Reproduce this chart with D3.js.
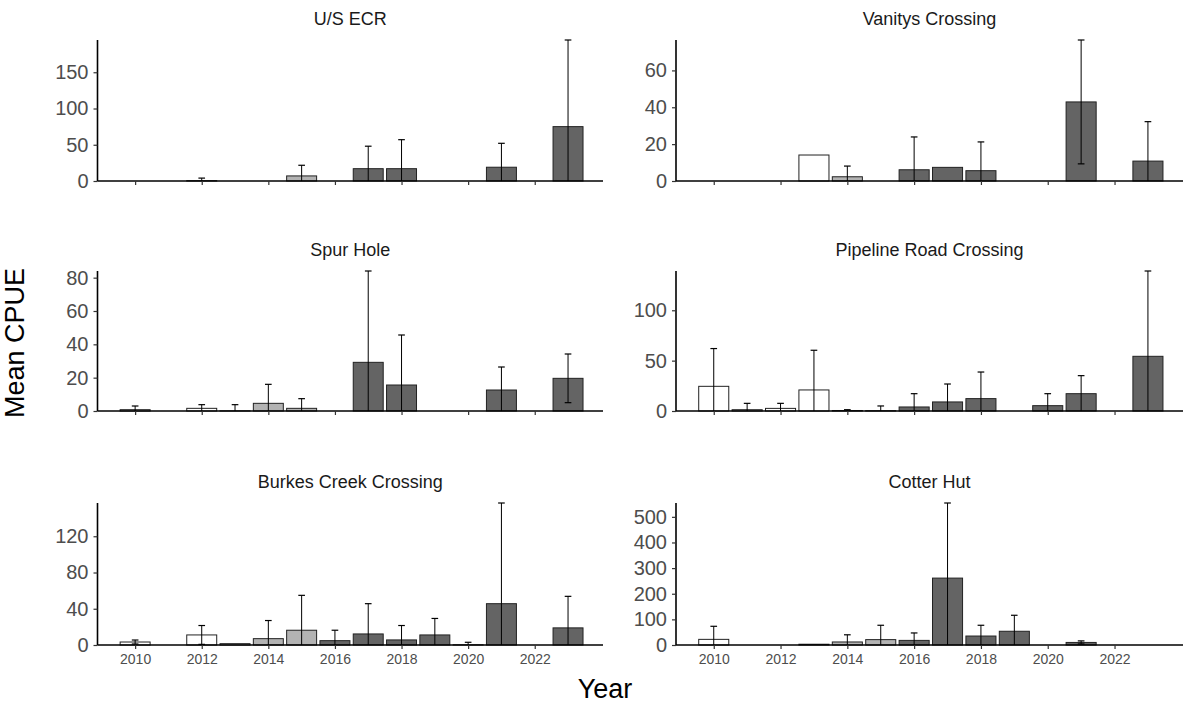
<!DOCTYPE html>
<html>
<head>
<meta charset="utf-8">
<script src="https://cdn.jsdelivr.net/npm/d3@7"></script>
<style>
  html, body { margin: 0; padding: 0; background: #fff; }
  svg { display: block; font-family: "Liberation Sans", Arial, sans-serif; }
</style>
</head>
<body>
<svg id="chart" width="1186" height="711"></svg>
<script>
// ---------------- data ----------------
const sites = ["U/S ECR", "Vanitys Crossing", "Spur Hole", "Pipeline Road Crossing", "Burkes Creek Crossing", "Cotter Hut"];

const usecrYears = [2012, 2015, 2017, 2018, 2021, 2023];
const usecrMean  = [0.5, 7, 17, 17, 19, 75];
const usecrSD    = [3.5, 14.7, 31, 40, 33, 119.5];

const vanitysYears = [2013, 2014, 2016, 2017, 2018, 2021, 2023];
const vanitysMean  = [14.1, 2.3, 6.1, 7.4, 5.6, 42.9, 10.8];
const vanitysSD    = [0, 5.8, 17.8, 0, 15.6, 33.6, 21.4];

const spurYears = [2010, 2012, 2013, 2014, 2015, 2017, 2018, 2021, 2023];
const spurMean  = [0.8, 1.6, 0.1, 4.6, 1.6, 29.2, 15.6, 12.6, 19.6];
const spurSD    = [2.2, 2.2, 3.7, 11.4, 5.8, 54.8, 30, 13.8, 14.6];

const pipelineYears = [2010, 2011, 2012, 2013, 2014, 2015, 2016, 2017, 2018, 2020, 2021, 2023];
const pipelineMean  = [24.5, 1.3, 2.6, 20.9, 0.5, 0.3, 4, 9, 12.3, 5.3, 17.2, 54.3];
const pipelineSD    = [37.5, 6.3, 5, 39.4, 0.8, 4.7, 13.2, 17.8, 26.4, 11.9, 17.9, 84.7];

const burkesYears = [2010, 2012, 2013, 2014, 2015, 2016, 2017, 2018, 2019, 2020, 2021, 2023];
const burkesMean  = [3.3, 11.1, 1.5, 7, 16.3, 4.8, 12.2, 5.6, 11.1, 0.2, 45.6, 18.9];
const burkesSD    = [2.2, 10.4, 0, 20, 38.5, 11.5, 33.4, 15.9, 18.2, 2.8, 111.1, 34.8];

const cotterYears = [2010, 2013, 2014, 2015, 2016, 2017, 2018, 2019, 2021];
const cotterMean  = [22, 3, 11.8, 21, 18, 261, 35, 53.6, 10];
const cotterSD    = [51, 0, 28, 56, 29, 293, 42, 62.4, 6];

const usecrTicks    = [0, 50, 100, 150];
const vanitysTicks  = [0, 20, 40, 60];
const spurTicks     = [0, 20, 40, 60, 80];
const pipelineTicks = [0, 50, 100];
const burkesTicks   = [0, 40, 80, 120];
const cotterTicks   = [0, 100, 200, 300, 400, 500];

const yearTicks = [2010, 2012, 2014, 2016, 2018, 2020, 2022];
const periodBreaks = [2014, 2016];   // sampling periods (fill groups)

// ---------------- build ----------------
const panels = [
  {site: sites[0], years: usecrYears, mean: usecrMean, sd: usecrSD, ticks: usecrTicks},
  {site: sites[1], years: vanitysYears, mean: vanitysMean, sd: vanitysSD, ticks: vanitysTicks},
  {site: sites[2], years: spurYears, mean: spurMean, sd: spurSD, ticks: spurTicks},
  {site: sites[3], years: pipelineYears, mean: pipelineMean, sd: pipelineSD, ticks: pipelineTicks},
  {site: sites[4], years: burkesYears, mean: burkesMean, sd: burkesSD, ticks: burkesTicks},
  {site: sites[5], years: cotterYears, mean: cotterMean, sd: cotterSD, ticks: cotterTicks}
];

const colX = [[97.5, 603], [676, 1183]];
const rowY = [[40, 181], [271, 411], [503, 645]];
const xDomain = [2008.87, 2024.05];
const barW = 0.9, capW = 0.2;

const fill = d3.scaleThreshold().domain(periodBreaks).range(["#ffffff", "#b3b3b3", "#646464"]);

const svg = d3.select("#chart");

panels.forEach((p, i) => {
  const col = i % 2, row = Math.floor(i / 2);
  const [x0, x1] = colX[col];
  const [y0, y1] = rowY[row];
  const rows = p.years.map((yr, k) => ({year: yr, mean: p.mean[k], sd: p.sd[k]}));
  const yMax = d3.max(rows, d => d.mean + d.sd);

  const x = d3.scaleLinear().domain(xDomain).range([x0, x1]);
  const y = d3.scaleLinear().domain([0, yMax]).range([y1, y0]);
  const g = svg.append("g");

  // bars
  g.selectAll("rect.bar").data(rows).enter().append("rect")
    .attr("class", "bar")
    .attr("x", d => x(d.year - barW / 2))
    .attr("width", d => x(d.year + barW / 2) - x(d.year - barW / 2))
    .attr("y", d => y(d.mean))
    .attr("height", d => y(0) - y(d.mean))
    .attr("fill", d => fill(d.year))
    .attr("stroke", "#222")
    .attr("stroke-width", 1);

  // error bars
  const eb = rows.filter(d => d.sd > 0);
  const lo = d => Math.max(0, d.mean - d.sd), hi = d => d.mean + d.sd;
  g.selectAll("line.ebv").data(eb).enter().append("line")
    .attr("x1", d => x(d.year)).attr("x2", d => x(d.year))
    .attr("y1", d => y(lo(d))).attr("y2", d => y(hi(d)))
    .attr("stroke", "#000").attr("stroke-width", 1);
  g.selectAll("line.ebt").data(eb).enter().append("line")
    .attr("x1", d => x(d.year - capW / 2)).attr("x2", d => x(d.year + capW / 2))
    .attr("y1", d => y(hi(d))).attr("y2", d => y(hi(d)))
    .attr("stroke", "#000").attr("stroke-width", 1.2);
  g.selectAll("line.ebb").data(eb.filter(d => d.mean - d.sd > 0)).enter().append("line")
    .attr("x1", d => x(d.year - capW / 2)).attr("x2", d => x(d.year + capW / 2))
    .attr("y1", d => y(lo(d))).attr("y2", d => y(lo(d)))
    .attr("stroke", "#000").attr("stroke-width", 1.2);

  // y axis
  const ya = g.append("g").attr("transform", `translate(${x0},0)`)
    .call(d3.axisLeft(y).tickValues(p.ticks).tickSize(4).tickPadding(5).tickFormat(d3.format("d")));
  ya.select(".domain").attr("stroke", "#000").attr("stroke-width", 1.6)
    .attr("d", `M0,${y0}V${y1}`);
  ya.selectAll(".tick line").attr("stroke", "#333").attr("stroke-width", 1.2);
  ya.selectAll(".tick text").attr("fill", "#4d4d4d").style("font-size", "20px")
    .style("font-family", "'Liberation Sans', Arial, sans-serif");

  // x axis
  const xa = g.append("g").attr("transform", `translate(0,${y1})`)
    .call(d3.axisBottom(x).tickValues(yearTicks).tickSize(4).tickPadding(5).tickFormat(d3.format("d")));
  xa.select(".domain").attr("stroke", "#000").attr("stroke-width", 1.6)
    .attr("d", `M${x0},0H${x1}`);
  xa.selectAll(".tick line").attr("stroke", "#333").attr("stroke-width", 1.2);
  xa.selectAll(".tick text").attr("fill", "#4d4d4d").style("font-size", "14px")
    .style("font-family", "'Liberation Sans', Arial, sans-serif")
    .style("display", row === 2 ? null : "none");

  // panel title
  svg.append("text")
    .attr("x", (x0 + x1) / 2).attr("y", y0 - 20)
    .attr("text-anchor", "middle").attr("dominant-baseline", "middle")
    .attr("fill", "#1a1a1a").style("font-size", "18px")
    .text(p.site);
});

// axis titles
svg.append("text").attr("x", 605).attr("y", 691)
  .attr("text-anchor", "middle").attr("dominant-baseline", "middle")
  .style("font-size", "27px").attr("fill", "#000").text("Year");
svg.append("text")
  .attr("transform", "translate(17,343) rotate(-90)")
  .attr("text-anchor", "middle").attr("dominant-baseline", "middle")
  .style("font-size", "27px").attr("fill", "#000").text("Mean CPUE");
</script>
</body>
</html>
